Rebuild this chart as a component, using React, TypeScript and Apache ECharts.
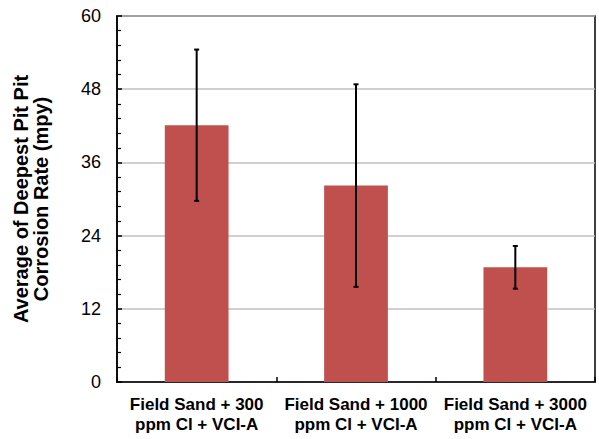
import React, { useEffect, useRef } from "react";
import * as echarts from "echarts";

const categories = [
  "Field Sand + 300\nppm Cl + VCI-A",
  "Field Sand + 1000\nppm Cl + VCI-A",
  "Field Sand + 3000\nppm Cl + VCI-A",
];
const means = [42.1, 32.2, 18.8];
const errors = [12.4, 16.6, 3.5];
const yTicks = { min: 0, max: 60, interval: 12 };

const FONT = "Arial, 'Liberation Sans', Helvetica, sans-serif";

export default function App() {
  const ref = useRef<HTMLDivElement>(null);
  useEffect(() => {
    document.body.style.margin = "0";
    const chart = echarts.init(ref.current!, undefined, { renderer: "svg" });
    const errData = means.map((m, i) => [i, m - errors[i], m + errors[i]]);
    chart.setOption({
      animation: false,
      backgroundColor: "#ffffff",
      grid: {
        left: 117,
        top: 16,
        right: 4,
        bottom: 57,
        show: true,
        borderColor: "#000",
        borderWidth: 1.5,
      },
      xAxis: {
        type: "category",
        data: categories,
        axisLine: { lineStyle: { color: "#000", width: 1.5 } },
        axisTick: { show: true, inside: true, length: 5, lineStyle: { color: "#000", width: 1.5 } },
        axisLabel: {
          color: "#000",
          fontFamily: FONT,
          fontWeight: "bold",
          fontSize: 17,
          lineHeight: 20,
          margin: 12,
          interval: 0,
        },
        splitLine: { show: false },
      },
      yAxis: {
        type: "value",
        min: yTicks.min,
        max: yTicks.max,
        interval: yTicks.interval,
        name: "Average of Deepest Pit Pit\nCorrosion Rate (mpy)",
        nameLocation: "middle",
        nameGap: 66,
        nameTextStyle: {
          color: "#000",
          fontFamily: FONT,
          fontWeight: "bold",
          fontSize: 20,
          lineHeight: 20,
        },
        axisLine: { show: true, lineStyle: { color: "#000", width: 1.5 } },
        axisTick: { show: true, inside: true, length: 5, lineStyle: { color: "#000", width: 1.5 } },
        minorTick: { show: true, splitNumber: 5, length: 4, lineStyle: { color: "#000", width: 1.2 } },
        axisLabel: {
          color: "#000",
          fontFamily: FONT,
          fontSize: 18,
          margin: 16,
        },
        splitLine: { show: true, lineStyle: { color: "#c0c0c0", width: 1.5 } },
      },
      series: [
        {
          type: "bar",
          data: means,
          barWidth: "40%",
          itemStyle: { color: "#C0504D" },
        },
        {
          type: "custom",
          data: errData,
          z: 10,
          renderItem: (params: any, api: any) => {
            const x = api.value(0);
            const lo = api.coord([x, api.value(1)]);
            const hi = api.coord([x, api.value(2)]);
            const cap = 2.5;
            const style = { stroke: "#000", lineWidth: 2 };
            return {
              type: "group",
              children: [
                { type: "line", shape: { x1: hi[0], y1: hi[1], x2: lo[0], y2: lo[1] }, style },
                { type: "line", shape: { x1: hi[0] - cap, y1: hi[1], x2: hi[0] + cap, y2: hi[1] }, style },
                { type: "line", shape: { x1: lo[0] - cap, y1: lo[1], x2: lo[0] + cap, y2: lo[1] }, style },
              ],
            };
          },
        },
      ],
    });
    return () => chart.dispose();
  }, []);
  return (
    <div
      ref={ref}
      style={{ position: "fixed", left: 0, top: 0, width: 599, height: 439 }}
    />
  );
}
